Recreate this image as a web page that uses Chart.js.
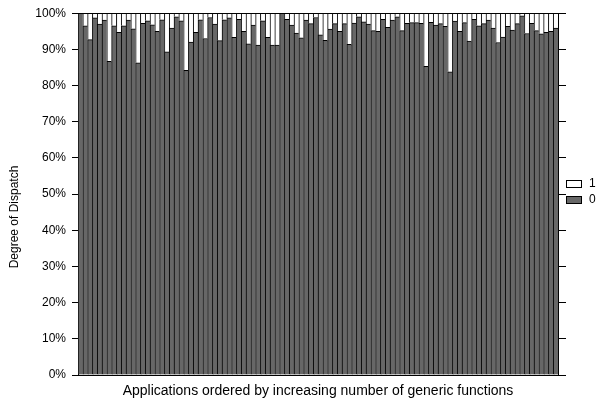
<!DOCTYPE html>
<html>
<head>
<meta charset="utf-8">
<script src="https://cdn.jsdelivr.net/npm/chart.js@4.4.0/dist/chart.umd.min.js"></script>
<style>
  html, body { margin: 0; padding: 0; background: #fff; }
  #wrap { width: 597px; height: 400px; position: relative; }
</style>
</head>
<body>
<div id="wrap"><canvas id="myChart"></canvas></div>
<script>
// Porcentaje de despacho "0" por aplicación (el resto es "1")
var disp0 = [
  100, 96.5, 92.7, 98.7, 97.0, 98.1, 86.7, 96.5, 94.7, 96.5,
  98.1, 95.7, 86.3, 97.2, 97.9, 96.8, 95.0, 98.2, 89.3, 95.9,
  99.0, 97.9, 84.2, 92.0, 94.7, 98.2, 93.0, 98.8, 97.0, 92.4,
  98.2, 98.7, 93.3, 98.3, 95.0, 91.5, 96.7, 91.2, 97.9, 93.3,
  91.2, 91.2, 100, 98.3, 96.7, 94.5, 93.2, 98.1, 97.1, 98.8,
  94.0, 92.5, 95.6, 97.1, 95.0, 97.1, 91.4, 97.3, 99.0, 97.6,
  97.0, 95.2, 95.0, 98.3, 96.1, 98.1, 99.0, 95.2, 97.2, 97.4,
  97.4, 97.2, 85.3, 97.5, 96.7, 97.1, 96.4, 83.8, 97.8, 95.0,
  97.4, 92.3, 98.3, 96.5, 97.1, 98.1, 95.9, 91.9, 93.4, 96.4,
  95.3, 97.1, 99.3, 94.4, 97.2, 95.2, 94.3, 94.7, 95.0, 95.9
];
var disp1 = disp0.map(function (v) { return +(100 - v).toFixed(1); });
var apps = disp0.map(function (v, i) { return 'App ' + (i + 1); });
var yTicks = [0, 10, 20, 30, 40, 50, 60, 70, 80, 90, 100];
var seriesNames = ['0', '1'];

Chart.defaults.font.family = "'Liberation Sans', Arial, sans-serif";
Chart.defaults.font.size = 12;
Chart.defaults.color = '#000';

// Marco, título del eje Y y leyenda dibujados a mano
var framePlugin = {
  id: 'frame',
  afterDraw: function (chart) {
    var ctx = chart.ctx;
    var a = chart.chartArea;
    ctx.save();
    ctx.strokeStyle = '#000';
    ctx.lineWidth = 1;
    ctx.beginPath();
    ctx.moveTo(Math.round(a.left) - 0.5, Math.round(a.top) + 0.5);
    ctx.lineTo(Math.round(a.right) + 0.5, Math.round(a.top) + 0.5);
    ctx.stroke();

    ctx.font = "12px 'Liberation Sans', Arial, sans-serif";
    ctx.fillStyle = '#000';
    ctx.textAlign = 'center';
    ctx.textBaseline = 'middle';
    ctx.save();
    ctx.translate(15, 217);
    ctx.rotate(-Math.PI / 2);
    ctx.fillText('Degree of Dispatch', 0, 0);
    ctx.restore();

    // leyenda
    var items = [
      { text: seriesNames[1], fill: '#ffffff', y: 180 },
      { text: seriesNames[0], fill: '#676767', y: 196 }
    ];
    ctx.textAlign = 'left';
    items.forEach(function (it) {
      ctx.fillStyle = it.fill;
      ctx.fillRect(566.5, it.y + 0.5, 15, 7);
      ctx.strokeStyle = '#000';
      ctx.strokeRect(566.5, it.y + 0.5, 15, 7);
      ctx.fillStyle = '#000';
      ctx.fillText(it.text, 589, it.y + 4);
    });
    ctx.restore();
  }
};

var ctx = document.getElementById('myChart').getContext('2d');
var myChart = new Chart(ctx, {
  type: 'bar',
  data: {
    labels: apps,
    datasets: [{
      label: seriesNames[0],
      data: disp0,
      backgroundColor: '#676767',
      borderColor: '#000',
      borderWidth: { top: 1, left: 1, right: 0, bottom: 0 },
      borderSkipped: false,
      barPercentage: 1,
      categoryPercentage: 1
    }, {
      label: seriesNames[1],
      data: disp1,
      backgroundColor: '#ffffff',
      borderColor: '#000',
      borderWidth: { top: 0, left: 1, right: 0, bottom: 0 },
      borderSkipped: false,
      barPercentage: 1,
      categoryPercentage: 1
    }]
  },
  options: {
    responsive: true,
    maintainAspectRatio: false,
    animation: false,
    layout: { padding: { top: 11, left: 0, right: 0, bottom: 0 } },
    plugins: {
      legend: { display: false },
      tooltip: { enabled: false }
    },
    scales: {
      x: {
        stacked: true,
        ticks: { display: false },
        grid: { display: false },
        border: { display: true, color: '#000', width: 1 },
        title: {
          display: true,
          text: 'Applications ordered by increasing number of generic functions',
          font: { size: 14 },
          padding: { top: 0, bottom: 0 }
        },
        afterFit: function (s) { s.height = 25; }
      },
      y: {
        stacked: true,
        min: 0,
        max: 100,
        afterBuildTicks: function (s) { s.ticks = yTicks.map(function (v) { return { value: v }; }); },
        ticks: {
          padding: 6,
          callback: function (v) { return v + '%'; }
        },
        grid: { drawOnChartArea: false, color: '#000', tickLength: 6 },
        border: { display: true, color: '#000', width: 1 },
        afterFit: function (s) { s.width = 78; }
      },
      y2: {
        position: 'right',
        min: 0,
        max: 100,
        afterBuildTicks: function (s) { s.ticks = yTicks.map(function (v) { return { value: v }; }); },
        ticks: { color: 'rgba(0,0,0,0)' },
        grid: { drawOnChartArea: false, color: '#000', tickLength: 8 },
        border: { display: true, color: '#000', width: 1 },
        afterFit: function (s) { s.width = 39; }
      }
    }
  },
  plugins: [framePlugin]
});
</script>
</body>
</html>
